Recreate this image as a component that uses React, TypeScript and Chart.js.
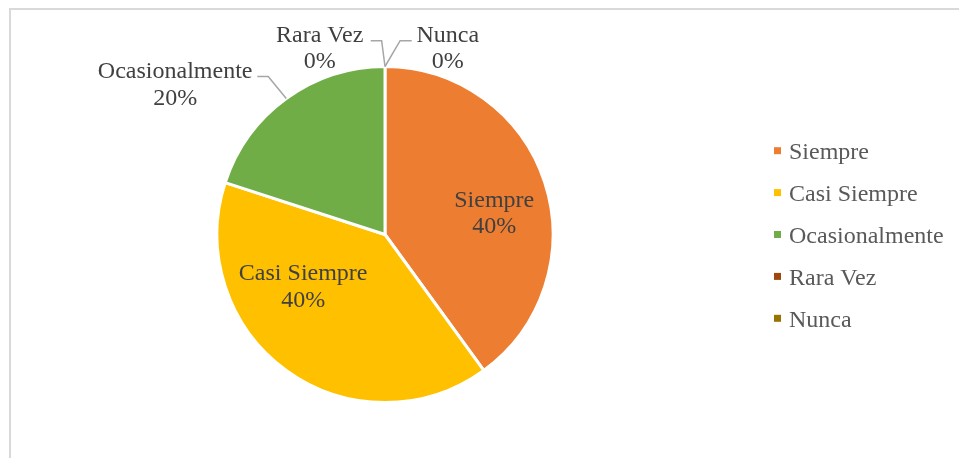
import React, { useEffect, useRef } from "react";
import { Chart, registerables } from "chart.js";

Chart.register(...registerables);

// ---- data ----
const categories = ["Siempre", "Casi Siempre", "Ocasionalmente", "Rara Vez", "Nunca"];
const percentages = [40, 40, 20, 0, 0];
const sliceColors = ["#ED7D31", "#FFC000", "#70AD47", "#9E480E", "#997300"];

// ---- styling / layout (radius units, relative to pie centre) ----
const FONT_FAMILY = '"Liberation Serif", "Times New Roman", serif';
const FONT_SIZE = 24;
const LINE_GAP = 26.8;
const labelPlacement = [
  { x: 0.65, y: -0.166 },
  { x: -0.487, y: 0.271 },
  { x: -1.249, y: -0.933, leader: { ex: -0.695, ey: -0.94, tx: -0.76 } },
  { x: -0.389, y: -1.148, leader: { ex: -0.02, ey: -1.154, tx: -0.085 } },
  { x: 0.374, y: -1.148, leader: { ex: 0.09, ey: -1.154, tx: 0.159 } },
];
const LEGEND_LEFT = 774;
const LEGEND_ROW = 41.9;

const labelsPlugin = {
  id: "sliceLabels",
  afterDatasetsDraw(chart: any) {
    const ctx = chart.ctx;
    const meta = chart.getDatasetMeta(0);
    const data = chart.data.datasets[0].data as number[];
    const total = data.reduce((a, b) => a + b, 0);
    ctx.save();
    ctx.font = `${FONT_SIZE}px ${FONT_FAMILY}`;
    ctx.textAlign = "center";
    ctx.textBaseline = "alphabetic";
    meta.data.forEach((arc: any, i: number) => {
      const { x, y, outerRadius, startAngle, endAngle } = arc.getProps(
        ["x", "y", "outerRadius", "startAngle", "endAngle"],
        true
      );
      const r = outerRadius;
      const p = labelPlacement[i];
      if (p.leader) {
        const mid = (startAngle + endAngle) / 2;
        ctx.beginPath();
        ctx.strokeStyle = "#A6A6A6";
        ctx.lineWidth = 1.5;
        ctx.moveTo(x + Math.cos(mid) * r, y + Math.sin(mid) * r);
        ctx.lineTo(x + p.leader.ex * r, y + p.leader.ey * r);
        ctx.lineTo(x + p.leader.tx * r, y + p.leader.ey * r);
        ctx.stroke();
      }
      const pct = Math.round((data[i] / total) * 100) + "%";
      ctx.fillStyle = "#404040";
      ctx.fillText(chart.data.labels[i], x + p.x * r, y + p.y * r);
      ctx.fillText(pct, x + p.x * r, y + p.y * r + LINE_GAP);
    });
    ctx.restore();
  },
};

const legendPlugin = {
  id: "sideLegend",
  afterDraw(chart: any) {
    const ctx = chart.ctx;
    const ca = chart.chartArea;
    const cy = (ca.top + ca.bottom) / 2;
    const labels = chart.data.labels as string[];
    const colors = chart.data.datasets[0].backgroundColor as string[];
    const n = labels.length;
    ctx.save();
    ctx.font = `${FONT_SIZE}px ${FONT_FAMILY}`;
    ctx.textAlign = "left";
    ctx.textBaseline = "alphabetic";
    labels.forEach((lab, i) => {
      const rc = cy + (i - (n - 1) / 2) * LEGEND_ROW;
      ctx.fillStyle = colors[i];
      ctx.fillRect(LEGEND_LEFT, rc - 3.5, 7, 7);
      ctx.fillStyle = "#595959";
      ctx.fillText(lab, LEGEND_LEFT + 15, rc + 8.3);
    });
    ctx.restore();
  },
};

export default function App() {
  const ref = useRef<HTMLCanvasElement | null>(null);
  useEffect(() => {
    if (!ref.current) return;
    const chart = new Chart(ref.current, {
      type: "pie",
      data: {
        labels: categories,
        datasets: [
          {
            data: percentages,
            backgroundColor: sliceColors,
            borderColor: "#FFFFFF",
            borderWidth: 3,
            hoverOffset: 0,
          },
        ],
      },
      options: {
        responsive: false,
        animation: false,
        events: [],
        layout: { padding: { left: 150, right: 339, top: 65, bottom: 54 } },
        plugins: {
          legend: { display: false },
          tooltip: { enabled: false },
        },
      },
      plugins: [labelsPlugin, legendPlugin],
    });
    return () => chart.destroy();
  }, []);

  return (
    <div
      style={{
        position: "fixed",
        left: 0,
        top: 0,
        width: 959,
        height: 458,
        overflow: "hidden",
        background: "#FFFFFF",
      }}
    >
      <div
        style={{
          position: "absolute",
          left: 9,
          top: 8,
          width: 2000,
          height: 2000,
          borderTop: "2px solid #D9D9D9",
          borderLeft: "2px solid #D9D9D9",
        }}
      />
      <canvas
        ref={ref}
        width={959}
        height={458}
        style={{ position: "absolute", left: 0, top: 0, width: 959, height: 458 }}
      />
    </div>
  );
}
